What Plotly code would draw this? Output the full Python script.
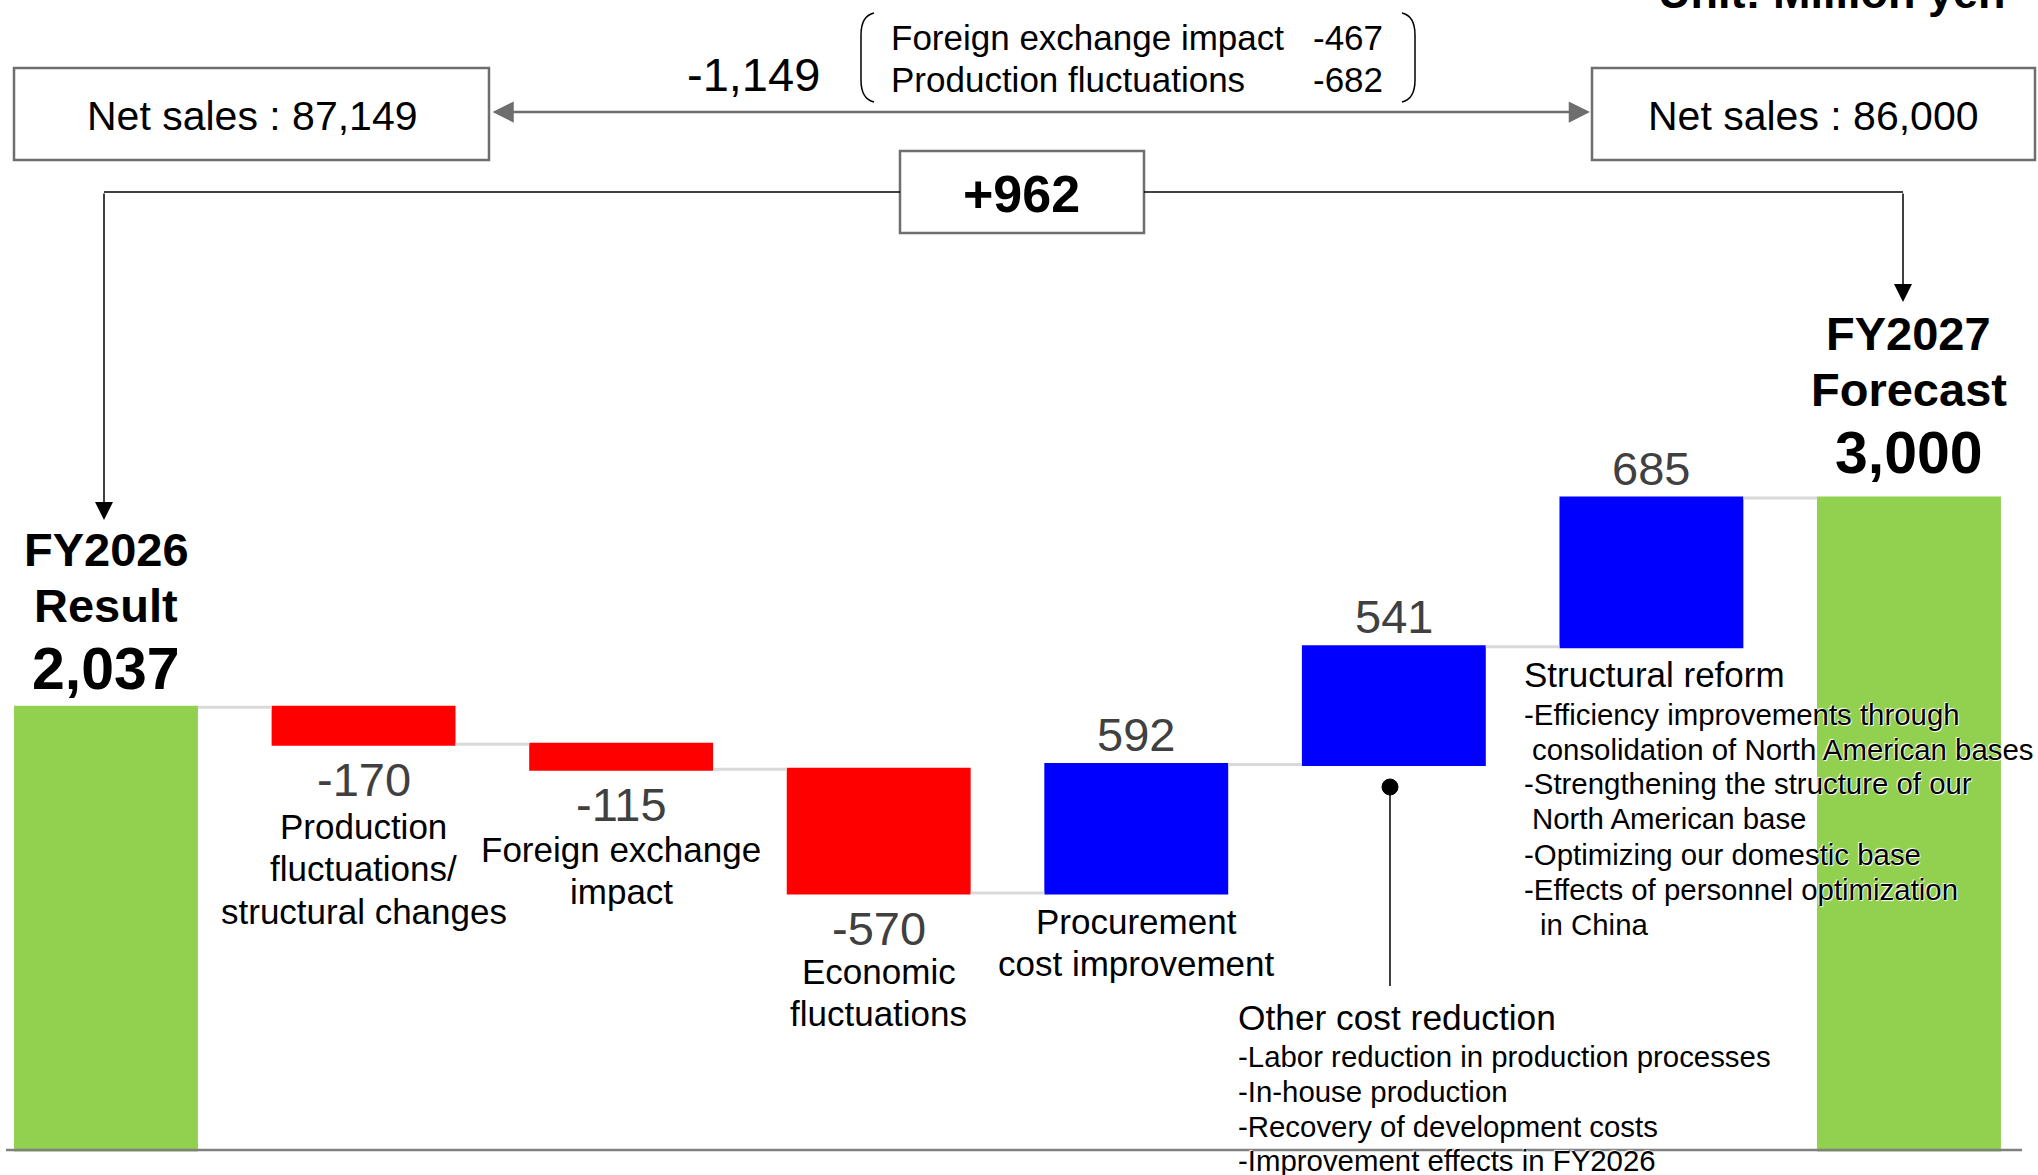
import plotly.graph_objects as go

W, H = 2038, 1175
FONT = "Liberation Sans, Arial, Helvetica, sans-serif"

# ---------------- data ----------------
categories = [
    "FY2026 Result",
    "Production fluctuations/structural changes",
    "Foreign exchange impact",
    "Economic fluctuations",
    "Procurement cost improvement",
    "Other cost reduction",
    "Structural reform",
    "FY2027 Forecast",
]
values = [2037, -170, -115, -570, 592, 541, 685, 3000]
measures = ["absolute", "relative", "relative", "relative", "relative", "relative", "relative", "total"]
value_labels = ["2,037", "-170", "-115", "-570", "592", "541", "685", "3,000"]
total_titles = ["FY2026", "", "", "", "", "", "", "FY2027"]
total_subtitles = ["Result", "", "", "", "", "", "", "Forecast"]
category_labels = [
    [],
    ["Production", "fluctuations/", "structural changes"],
    ["Foreign exchange", "impact"],
    ["Economic", "fluctuations"],
    ["Procurement", "cost improvement"],
    [],
    [],
    [],
]
net_sales_labels = ["Net sales : 87,149", "Net sales : 86,000"]
sales_change_label = "-1,149"
sales_breakdown_items = ["Foreign exchange impact", "Production fluctuations"]
sales_breakdown_values = ["-467", "-682"]
profit_change_label = "+962"
unit_label = "Unit: Million yen"
structural_title = "Structural reform"
structural_lines = [
    "-Efficiency improvements through",
    "consolidation of North American bases",
    "-Strengthening the structure of our",
    "North American base",
    "-Optimizing our domestic base",
    "-Effects of personnel optimization",
    "in China",
]
other_title = "Other cost reduction"
other_lines = [
    "-Labor reduction in production processes",
    "-In-house production",
    "-Recovery of development costs",
    "-Improvement effects in FY2026",
]

# ---------------- geometry helpers ----------------
def px(x):
    return x / W

def py(y):
    return 1 - y / H

# cumulative bar extents
bases, ends = [], []
cum = 0
for v, m in zip(values, measures):
    if m == "absolute":
        cum = v
        bases.append(0)
        ends.append(v)
    elif m == "relative":
        bases.append(cum)
        cum += v
        ends.append(cum)
    else:
        bases.append(0)
        ends.append(cum)

BASE_PX = 1150
PX_PER_UNIT = 652 / 3000
y_min = -(H - BASE_PX) / PX_PER_UNIT
y_max = BASE_PX / PX_PER_UNIT
CAT0_PX = 106
STEP_PX = 257.57
x_min = -CAT0_PX / STEP_PX
x_max = (W - CAT0_PX) / STEP_PX

fig = go.Figure()
fig.add_trace(go.Waterfall(
    x=categories,
    y=values,
    measure=measures,
    width=0.714,
    increasing=dict(marker=dict(color="#0000FF", line=dict(width=0))),
    decreasing=dict(marker=dict(color="#FF0000", line=dict(width=0))),
    totals=dict(marker=dict(color="#92D050", line=dict(width=0))),
    connector=dict(mode="between", line=dict(color="#D9D9D9", width=3)),
    textinfo="none",
    hoverinfo="skip",
))

ann = []
shapes = []

# value labels and category labels
total_shifts = {0: (158, 102, 38), 7: (165, 109, 45)}
for i, cat in enumerate(categories):
    hi = max(bases[i], ends[i])
    if measures[i] in ("absolute", "total"):
        s1, s2, s3 = total_shifts[i]
        ann.append(dict(x=cat, y=hi, yshift=s1, text="<b>%s</b>" % total_titles[i],
                        font=dict(size=47, color="black", family=FONT)))
        ann.append(dict(x=cat, y=hi, yshift=s2, text="<b>%s</b>" % total_subtitles[i],
                        font=dict(size=47, color="black", family=FONT)))
        ann.append(dict(x=cat, y=hi, yshift=s3, text="<b>%s</b>" % value_labels[i],
                        font=dict(size=59, color="black", family=FONT)))
    elif values[i] < 0:
        ann.append(dict(x=cat, y=ends[i], yshift=-35, text=value_labels[i],
                        font=dict(size=47, color="#404040", family=FONT)))
    else:
        ann.append(dict(x=cat, y=ends[i], yshift=30, text=value_labels[i],
                        font=dict(size=47, color="#404040", family=FONT)))

# first-line offsets (pixels below the bar's lower end) and line spacing
first_line_offsets = [0, 82, 80, 78, 28, 0, 0, 0]
LINE_STEP = 42.5
for i, cat in enumerate(categories):
    lo = min(bases[i], ends[i])
    for k, line in enumerate(category_labels[i]):
        ann.append(dict(x=cat, y=lo, yshift=-(first_line_offsets[i] + k * LINE_STEP), text=line,
                        font=dict(size=35, color="black", family=FONT)))

for a in ann:
    a.update(xref="x", yref="y", showarrow=False, xanchor="center", yanchor="middle")

free = []
# net sales boxes
box_line = dict(color="#6E6E6E", width=2.5)
for (x0, x1), lab, cx in zip([(14, 489), (1592, 2035)], net_sales_labels, [252, 1813]):
    shapes.append(dict(type="rect", xref="paper", yref="paper", x0=px(x0), x1=px(x1),
                       y0=py(160), y1=py(68), line=box_line))
    free.append(dict(x=px(cx), y=py(116), text=lab, font=dict(size=41, color="black")))

# +962 box
shapes.append(dict(type="rect", xref="paper", yref="paper", x0=px(900), x1=px(1144),
                   y0=py(233), y1=py(151), line=box_line))
free.append(dict(x=px(1021), y=py(194), text="<b>%s</b>" % profit_change_label,
                 font=dict(size=52, color="black")))

# -1,149
free.append(dict(x=px(753), y=py(75), text=sales_change_label, font=dict(size=47, color="black")))

# breakdown
for k, (item, val) in enumerate(zip(sales_breakdown_items, sales_breakdown_values)):
    yy = [38, 80][k]
    free.append(dict(x=px(889), y=py(yy), text=item, xanchor="left", font=dict(size=35, color="black")))
    free.append(dict(x=px(1385), y=py(yy), text=val, xanchor="right", font=dict(size=35, color="black")))

# unit label
free.append(dict(x=px(1831), y=py(-8), text="<b>%s</b>" % unit_label, font=dict(size=45, color="black")))

# structural reform block
shadow = "1px 1px 1px #ffffff, -1px -1px 1px #ffffff"
free.append(dict(x=px(1522), y=py(674), text=structural_title, xanchor="left",
                 font=dict(size=35, color="black")))
sr_x = [1522, 1530, 1522, 1530, 1522, 1522, 1538]
sr_y = [714, 749, 783, 818, 854, 889, 924]
for t, xx, yy in zip(structural_lines, sr_x, sr_y):
    free.append(dict(x=px(xx), y=py(yy), text=t, xanchor="left",
                     font=dict(size=29.4, color="black", shadow=shadow)))

# other cost reduction block
free.append(dict(x=px(1236), y=py(1017), text=other_title, xanchor="left",
                 font=dict(size=35.3, color="black")))
for t, yy in zip(other_lines, [1056, 1091, 1126, 1160]):
    free.append(dict(x=px(1236), y=py(yy), text=t, xanchor="left",
                     font=dict(size=29.4, color="black", shadow=shadow)))

for a in free:
    a.setdefault("xanchor", "center")
    a.update(xref="paper", yref="paper", showarrow=False, yanchor="middle")
    a["font"].setdefault("family", FONT)
ann.extend(free)

# double-headed gray arrow
ann.append(dict(xref="paper", yref="paper", x=px(1590), y=py(112), ax=-(1590 - 491), ay=0,
                axref="pixel", ayref="pixel", text="", showarrow=True, arrowside="end+start",
                arrowhead=2, arrowsize=1.7, arrowwidth=2.5, arrowcolor="#6E6E6E", standoff=0,
                startstandoff=0, startarrowhead=2, startarrowsize=1.7))

# black connector lines with arrows
line_blk = dict(color="black", width=1.5)
shapes.append(dict(type="line", xref="paper", yref="paper", x0=px(104), x1=px(900),
                   y0=py(192), y1=py(192), line=line_blk))
shapes.append(dict(type="line", xref="paper", yref="paper", x0=px(1144), x1=px(1903),
                   y0=py(192), y1=py(192), line=line_blk))
ann.append(dict(xref="paper", yref="paper", x=px(104), y=py(520), ax=0, ay=-(520 - 192),
                text="", showarrow=True, arrowhead=2, arrowsize=2.4, arrowwidth=1.5,
                arrowcolor="black", standoff=0))
ann.append(dict(xref="paper", yref="paper", x=px(1903), y=py(302), ax=0, ay=-(302 - 192),
                text="", showarrow=True, arrowhead=2, arrowsize=2.4, arrowwidth=1.5,
                arrowcolor="black", standoff=0))

# brackets
def P(x, y):
    return "%.5f,%.5f" % (px(x), py(y))

left_br = "M %s Q %s %s L %s Q %s %s" % (P(874, 13), P(861, 16), P(861, 35), P(861, 80), P(861, 99), P(874, 102))
right_br = "M %s Q %s %s L %s Q %s %s" % (P(1402, 13), P(1415, 16), P(1415, 35), P(1415, 80), P(1415, 99), P(1402, 102))
for pth in (left_br, right_br):
    shapes.append(dict(type="path", xref="paper", yref="paper", path=pth, line=line_blk))

# pin for other cost reduction
shapes.append(dict(type="line", xref="paper", yref="paper", x0=px(1390), x1=px(1390),
                   y0=py(787), y1=py(986), line=line_blk))
shapes.append(dict(type="circle", xref="paper", yref="paper", x0=px(1382), x1=px(1398),
                   y0=py(795), y1=py(779), fillcolor="black", line=dict(color="black", width=1)))

# baseline
shapes.append(dict(type="line", xref="paper", yref="y", x0=px(6), x1=px(2022), y0=0, y1=0,
                   line=dict(color="#808080", width=2.5)))

fig.update_layout(
    width=W, height=H,
    margin=dict(l=0, r=0, t=0, b=0),
    paper_bgcolor="white", plot_bgcolor="white",
    showlegend=False,
    xaxis=dict(visible=False, range=[x_min, x_max], type="category"),
    yaxis=dict(visible=False, range=[y_min, y_max]),
    annotations=ann,
    shapes=shapes,
    font=dict(family=FONT),
)

fig.write_html("out.html", config={"displayModeBar": False},
               post_script="document.body.style.margin='0px';")
